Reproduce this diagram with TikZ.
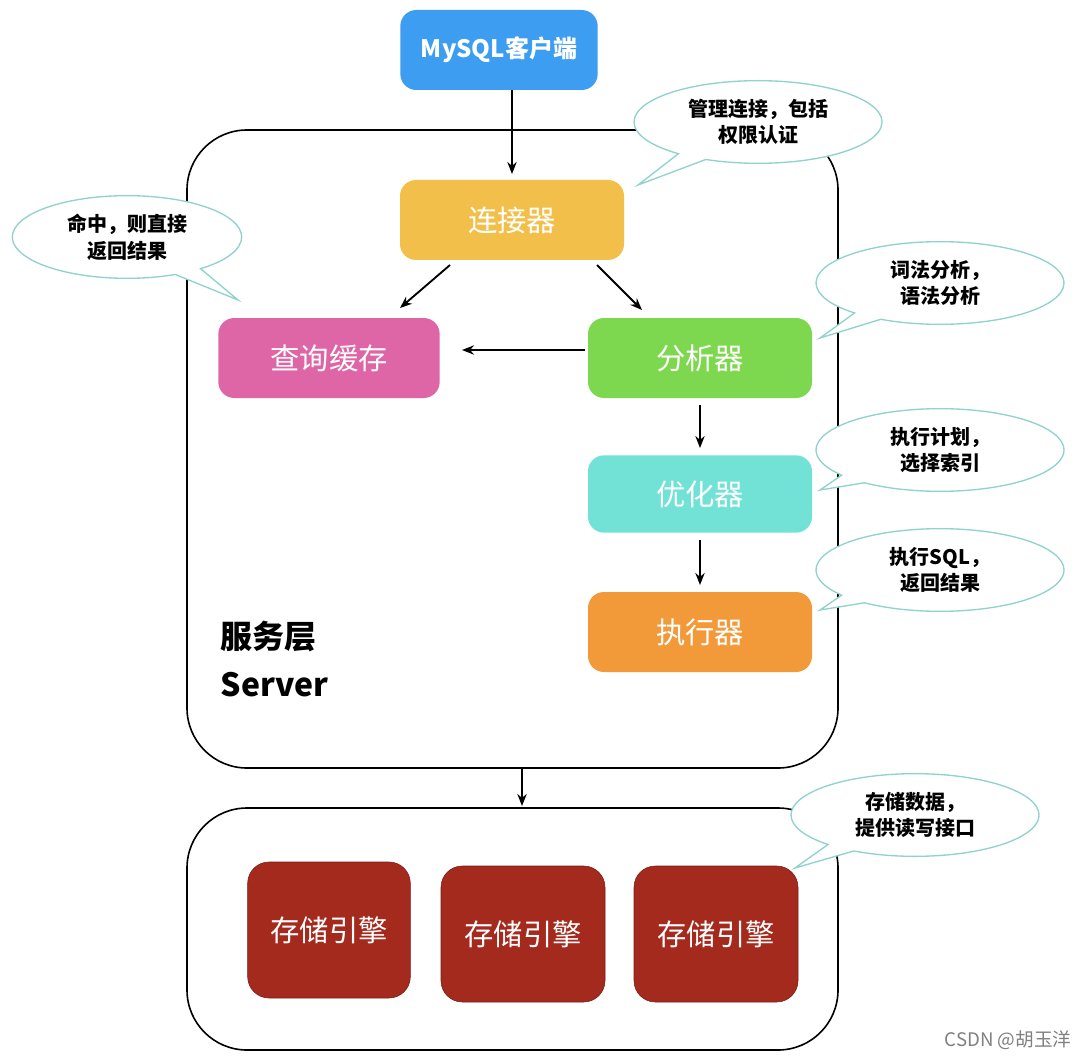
\documentclass[tikz,border=0pt]{standalone}
\usepackage{fontspec}
\setmainfont{Noto Sans CJK SC}
\usetikzlibrary{shapes.callouts,arrows.meta}
\definecolor{cblue}{HTML}{3D9DF0}
\definecolor{cyel}{HTML}{F2BF4A}
\definecolor{cpink}{HTML}{DE66A6}
\definecolor{cgreen}{HTML}{7DD84F}
\definecolor{ccyan}{HTML}{72E2D6}
\definecolor{corange}{HTML}{F2993A}
\definecolor{cred}{HTML}{A52A1E}
\definecolor{cline}{HTML}{8FD3CC}
\tikzset{
  box/.style={rounded corners=12, draw=none, text=white, font=\fontsize{22}{26}\selectfont},
  eng/.style={rounded corners=16, fill=cred, draw=cred!70!black, text=white, font=\fontsize{22}{26}\selectfont},
  arr/.style={-{Stealth[length=9pt,width=7pt]}, line width=1.4pt},
  bubble/.style={ellipse callout, draw=cline, line width=1pt, fill=white, align=center, font=\fontsize{15}{20}\selectfont\bfseries, minimum width=186pt, minimum height=62pt, inner sep=0pt},
  frame/.style={draw, line width=1.2pt, rounded corners=45}
}
\begin{document}
\begin{tikzpicture}[x=0.75pt,y=-0.75pt]
\useasboundingbox (0,0) rectangle (1080,1062);
\fill[white] (0,0) rectangle (1080,1062);
\draw[frame] (187,130) rectangle (838,768);
\draw[frame] (187,808) rectangle (838,1050);
\node[box,fill=cblue,minimum width=148pt,minimum height=60pt,font=\fontsize{18}{22}\selectfont\bfseries] (cli) at (499,50) {MySQL客户端};
\node[box,fill=cyel,minimum width=168pt,minimum height=60pt] (con) at (512,220) {连接器};
\node[box,fill=cpink,minimum width=166pt,minimum height=60pt] (cache) at (329,358) {查询缓存};
\node[box,fill=cgreen,minimum width=168pt,minimum height=60pt] (ana) at (700,358) {分析器};
\node[box,fill=ccyan,minimum width=168pt,minimum height=58pt] (opt) at (700,494) {优化器};
\node[box,fill=corange,minimum width=168pt,minimum height=60pt] (exe) at (700,632) {执行器};
\node[anchor=west,align=left,font=\fontsize{24}{36}\selectfont\bfseries] (srv) at (216,659) {服务层\\Server};
\node[eng,minimum width=122pt,minimum height=102pt] (e1) at (329,930) {存储引擎};
\node[eng,minimum width=123pt,minimum height=102pt] (e2) at (523,934) {存储引擎};
\node[eng,minimum width=123pt,minimum height=102pt] (e3) at (716,934) {存储引擎};
\coordinate (cliB) at (512,90);
\coordinate (conT) at (512,174);
\coordinate (anaW) at (585,350);
\coordinate (cacheE) at (462,350);
\draw[arr] (cliB) -- (conT);
\draw[arr] (450,265) -- (400,308);
\draw[arr] (597,265) -- (642,310);
\draw[arr] (anaW) -- (cacheE);
\draw[arr] (700,405) -- (700,448);
\draw[arr] (700,540) -- (700,585);
\draw[arr] (522,768) -- (522,806);
\node[bubble, callout absolute pointer={(638,185)}] (b1) at (758,122) {管理连接，包括\\权限认证};
\node[bubble, callout absolute pointer={(238,300)}, minimum width=172pt] (b2) at (127,237) {命中，则直接\\返回结果};
\node[bubble, callout absolute pointer={(820,338)}] (b3) at (940,283) {词法分析，\\语法分析};
\node[bubble, callout absolute pointer={(820,490)}] (b4) at (940,450) {执行计划，\\选择索引};
\node[bubble, callout absolute pointer={(820,610)}] (b5) at (940,570) {执行SQL，\\返回结果};
\node[bubble, callout absolute pointer={(795,868)}] (b6) at (915,815) {存储数据，\\提供读写接口};
\node[text=gray,font=\fontsize{14}{16}\selectfont] (wm) at (1008,1040) {CSDN @胡玉洋};
\end{tikzpicture}
\end{document}
